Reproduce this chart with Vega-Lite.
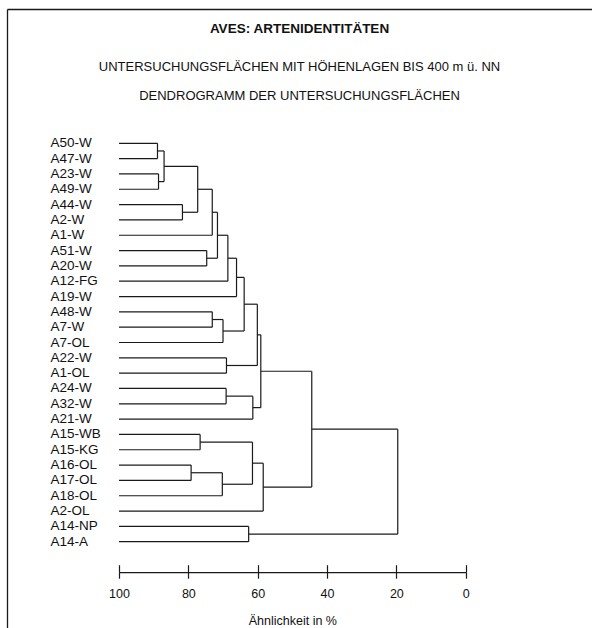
{
  "$schema": "https://vega.github.io/schema/vega-lite/v6.json",
  "width": 585,
  "height": 619,
  "autosize": {"type": "none"},
  "padding": {"left": 7, "top": 9, "right": 0, "bottom": 0},
  "background": "white",
  "config": {
    "view": {"stroke": null},
    "font": "Liberation Sans",
    "axis": {"grid": false, "labelFont": "Liberation Sans", "titleFont": "Liberation Sans", "titleFontWeight": "normal"}
  },
  "title": {
    "text": "AVES: ARTENIDENTITÄTEN",
    "subtitle": ["UNTERSUCHUNGSFLÄCHEN MIT HÖHENLAGEN BIS 400 m ü. NN", "DENDROGRAMM DER UNTERSUCHUNGSFLÄCHEN"],
    "anchor": "middle",
    "frame": "group",
    "offset": -94,
    "font": "Liberation Sans",
    "fontSize": 13.5,
    "fontWeight": "bold",
    "color": "#111",
    "subtitleFont": "Liberation Sans",
    "subtitleFontSize": 13,
    "subtitleColor": "#111",
    "subtitlePadding": 26,
    "subtitleLineHeight": 29
  },
  "data": {
    "values": [
      {"name": "A50-W", "kind": "leaf", "sim": 100, "pos": 0, "psim": 88.9},
      {"name": "A47-W", "kind": "leaf", "sim": 100, "pos": 1, "psim": 88.9},
      {"name": "A23-W", "kind": "leaf", "sim": 100, "pos": 2, "psim": 88.6},
      {"name": "A49-W", "kind": "leaf", "sim": 100, "pos": 3, "psim": 88.6},
      {"name": "A44-W", "kind": "leaf", "sim": 100, "pos": 4, "psim": 81.7},
      {"name": "A2-W", "kind": "leaf", "sim": 100, "pos": 5, "psim": 81.7},
      {"name": "A1-W", "kind": "leaf", "sim": 100, "pos": 6, "psim": 73.1},
      {"name": "A51-W", "kind": "leaf", "sim": 100, "pos": 7, "psim": 74.7},
      {"name": "A20-W", "kind": "leaf", "sim": 100, "pos": 8, "psim": 74.7},
      {"name": "A12-FG", "kind": "leaf", "sim": 100, "pos": 9, "psim": 68.6},
      {"name": "A19-W", "kind": "leaf", "sim": 100, "pos": 10, "psim": 66.1},
      {"name": "A48-W", "kind": "leaf", "sim": 100, "pos": 11, "psim": 73.1},
      {"name": "A7-W", "kind": "leaf", "sim": 100, "pos": 12, "psim": 73.1},
      {"name": "A7-OL", "kind": "leaf", "sim": 100, "pos": 13, "psim": 70.0},
      {"name": "A22-W", "kind": "leaf", "sim": 100, "pos": 14, "psim": 69.0},
      {"name": "A1-OL", "kind": "leaf", "sim": 100, "pos": 15, "psim": 69.0},
      {"name": "A24-W", "kind": "leaf", "sim": 100, "pos": 16, "psim": 69.1},
      {"name": "A32-W", "kind": "leaf", "sim": 100, "pos": 17, "psim": 69.1},
      {"name": "A21-W", "kind": "leaf", "sim": 100, "pos": 18, "psim": 61.4},
      {"name": "A15-WB", "kind": "leaf", "sim": 100, "pos": 19, "psim": 76.6},
      {"name": "A15-KG", "kind": "leaf", "sim": 100, "pos": 20, "psim": 76.6},
      {"name": "A16-OL", "kind": "leaf", "sim": 100, "pos": 21, "psim": 79.2},
      {"name": "A17-OL", "kind": "leaf", "sim": 100, "pos": 22, "psim": 79.2},
      {"name": "A18-OL", "kind": "leaf", "sim": 100, "pos": 23, "psim": 70.2},
      {"name": "A2-OL", "kind": "leaf", "sim": 100, "pos": 24, "psim": 58.4},
      {"name": "A14-NP", "kind": "leaf", "sim": 100, "pos": 25, "psim": 62.6},
      {"name": "A14-A", "kind": "leaf", "sim": 100, "pos": 26, "psim": 62.6},
      {"name": "n1", "kind": "node", "sim": 88.9, "pos": 0.5, "psim": 87.0, "lo": 0, "hi": 1},
      {"name": "n2", "kind": "node", "sim": 88.6, "pos": 2.5, "psim": 87.0, "lo": 2, "hi": 3},
      {"name": "n3", "kind": "node", "sim": 87.0, "pos": 1.5, "psim": 77.3, "lo": 0.5, "hi": 2.5},
      {"name": "n4", "kind": "node", "sim": 81.7, "pos": 4.5, "psim": 77.3, "lo": 4, "hi": 5},
      {"name": "n5", "kind": "node", "sim": 77.3, "pos": 3.0, "psim": 73.1, "lo": 1.5, "hi": 4.5},
      {"name": "n6", "kind": "node", "sim": 73.1, "pos": 4.5, "psim": 71.6, "lo": 3, "hi": 6},
      {"name": "n7", "kind": "node", "sim": 74.7, "pos": 7.5, "psim": 71.6, "lo": 7, "hi": 8},
      {"name": "n8", "kind": "node", "sim": 71.6, "pos": 6.0, "psim": 68.6, "lo": 4.5, "hi": 7.5},
      {"name": "n9", "kind": "node", "sim": 68.6, "pos": 7.5, "psim": 66.1, "lo": 6, "hi": 9},
      {"name": "n10", "kind": "node", "sim": 66.1, "pos": 8.75, "psim": 63.9, "lo": 7.5, "hi": 10},
      {"name": "n11", "kind": "node", "sim": 73.1, "pos": 11.5, "psim": 70.0, "lo": 11, "hi": 12},
      {"name": "n12", "kind": "node", "sim": 70.0, "pos": 12.25, "psim": 63.9, "lo": 11.5, "hi": 13},
      {"name": "n13", "kind": "node", "sim": 63.9, "pos": 10.5, "psim": 60.1, "lo": 8.75, "hi": 12.25},
      {"name": "n14", "kind": "node", "sim": 69.0, "pos": 14.5, "psim": 60.1, "lo": 14, "hi": 15},
      {"name": "n15", "kind": "node", "sim": 60.1, "pos": 12.5, "psim": 59.1, "lo": 10.5, "hi": 14.5},
      {"name": "n16", "kind": "node", "sim": 69.1, "pos": 16.5, "psim": 61.4, "lo": 16, "hi": 17},
      {"name": "n17", "kind": "node", "sim": 61.4, "pos": 17.25, "psim": 59.1, "lo": 16.5, "hi": 18},
      {"name": "n18", "kind": "node", "sim": 59.1, "pos": 14.875, "psim": 44.4, "lo": 12.5, "hi": 17.25},
      {"name": "n19", "kind": "node", "sim": 76.6, "pos": 19.5, "psim": 61.5, "lo": 19, "hi": 20},
      {"name": "n20", "kind": "node", "sim": 79.2, "pos": 21.5, "psim": 70.2, "lo": 21, "hi": 22},
      {"name": "n21", "kind": "node", "sim": 70.2, "pos": 22.25, "psim": 61.5, "lo": 21.5, "hi": 23},
      {"name": "n22", "kind": "node", "sim": 61.5, "pos": 20.875, "psim": 58.4, "lo": 19.5, "hi": 22.25},
      {"name": "n23", "kind": "node", "sim": 58.4, "pos": 22.4375, "psim": 44.4, "lo": 20.875, "hi": 24},
      {"name": "n24", "kind": "node", "sim": 44.4, "pos": 18.65625, "psim": 19.6, "lo": 14.875, "hi": 22.4375},
      {"name": "n25", "kind": "node", "sim": 62.6, "pos": 25.5, "psim": 19.6, "lo": 25, "hi": 26},
      {"name": "n26", "kind": "node", "sim": 19.6, "pos": 22.078, "psim": null, "lo": 18.65625, "hi": 25.5}
    ]
  },
  "layer": [
    {
      "layer": [
        {
          "transform": [{"filter": "datum.lo != null"}],
          "mark": {"type": "rule", "color": "#1a1a1a", "strokeWidth": 1.2},
          "encoding": {
            "x": {
              "field": "sim", "type": "quantitative",
              "scale": {"domain": [100, 0], "range": [112, 458.7], "nice": false, "zero": false},
              "axis": {
                "orient": "bottom", "offset": -55.8, "values": [100, 80, 60, 40, 20, 0], "format": "d",
                "tickSize": 6, "tickWidth": 1.2, "tickColor": "#1a1a1a",
                "domainWidth": 1.2, "domainColor": "#1a1a1a",
                "labelFontSize": 12.5, "labelPadding": 9, "labelColor": "#111", "labelFlush": false, "labelOverlap": false,
                "title": "Ähnlichkeit in %", "titleFontSize": 12.5, "titleFontWeight": "normal", "titlePadding": 15, "titleColor": "#111",
                "grid": false
              }
            },
            "y": {
              "field": "lo", "type": "quantitative",
              "scale": {"domain": [-8.765, 31.632], "reverse": true, "nice": false, "zero": false},
              "axis": {"domain": true, "domainColor": "#1a1a1a", "domainWidth": 1.3, "ticks": false, "labels": false, "grid": false, "title": null}
            },
            "y2": {"field": "hi"}
          }
        },
        {
          "transform": [{"filter": "datum.psim != null"}],
          "mark": {"type": "rule", "color": "#1a1a1a", "strokeWidth": 1.2},
          "encoding": {
            "x": {
              "field": "sim", "type": "quantitative",
              "scale": {"domain": [100, 0], "range": [112, 458.7], "nice": false, "zero": false},
              "axis": {
                "orient": "bottom", "offset": -55.8, "values": [100, 80, 60, 40, 20, 0],
                "tickSize": -7.5, "tickWidth": 1.2, "tickColor": "#1a1a1a",
                "domain": false, "labels": false, "title": null, "grid": false
              }
            },
            "x2": {"field": "psim"},
            "y": {
              "field": "pos", "type": "quantitative",
              "scale": {"domain": [-8.765, 31.632], "reverse": true, "nice": false, "zero": false},
              "axis": {"domain": true, "domainColor": "#1a1a1a", "domainWidth": 1.3, "ticks": false, "labels": false, "grid": false, "title": null}
            }
          }
        },
        {
          "transform": [{"filter": "datum.kind == 'leaf'"}],
          "mark": {"type": "text", "align": "left", "baseline": "middle", "dx": -68.5, "fontSize": 13.5, "font": "Liberation Sans", "color": "#111"},
          "encoding": {
            "x": {
              "field": "sim", "type": "quantitative",
              "scale": {"domain": [100, 0], "range": [112, 458.7], "nice": false, "zero": false},
              "axis": null
            },
            "y": {
              "field": "pos", "type": "quantitative",
              "scale": {"domain": [-8.765, 31.632], "reverse": true, "nice": false, "zero": false},
              "axis": {"domain": true, "domainColor": "#1a1a1a", "domainWidth": 1.3, "ticks": false, "labels": false, "grid": false, "title": null}
            },
            "text": {"field": "name"}
          }
        }
      ],
      "resolve": {"axis": {"x": "independent"}}
    },
    {
      "mark": {"type": "point", "opacity": 0},
      "encoding": {
        "x": {
          "field": "sim", "type": "quantitative",
          "scale": {"domain": [100, 0], "nice": false, "zero": false},
          "axis": {"orient": "top", "domain": true, "domainColor": "#1a1a1a", "domainWidth": 1.3, "ticks": false, "labels": false, "grid": false, "title": null}
        },
        "y": {
          "field": "pos", "type": "quantitative",
          "scale": {"domain": [-8.765, 31.632], "reverse": true, "nice": false, "zero": false},
          "axis": {"domain": true, "domainColor": "#1a1a1a", "domainWidth": 1.3, "ticks": false, "labels": false, "grid": false, "title": null}
        }
      }
    }
  ],
  "resolve": {"scale": {"x": "independent"}, "axis": {"x": "independent"}}
}
